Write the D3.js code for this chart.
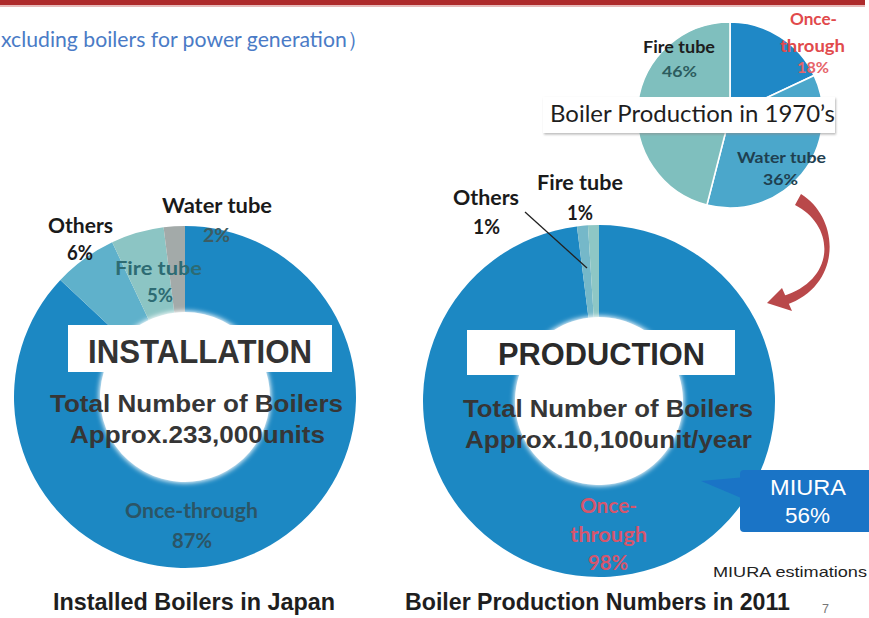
<!DOCTYPE html>
<html>
<head>
<meta charset="utf-8">
<script src="https://cdn.jsdelivr.net/npm/d3@7/dist/d3.min.js"></script>
<style>
  html, body { margin: 0; padding: 0; background: #fff; }
  svg { display: block; }
</style>
</head>
<body>
<svg id="chart" width="869" height="618"></svg>
<script>
// ---- data ----
const installCategories = ["Once-through", "Others", "Fire tube", "Water tube"];
const installValues     = [87, 6, 5, 2];

const productionCategories = ["Once-through", "Others", "Fire tube"];
const productionValues     = [98, 1, 1];

const production1970Categories = ["Once-through", "Water tube", "Fire tube"];
const production1970Values     = [18, 36, 46];

const installTotal    = "Approx.233,000units";
const productionTotal = "Approx.10,100unit/year";
const miuraShare      = 56;

// ---- styles ----
const SANS = "'Liberation Sans', Arial, sans-serif";
const CAL  = "Lato, 'Open Sans', sans-serif";

const installColors = d3.scaleOrdinal()
  .domain(installCategories)
  .range(["#1f88c3", "#5fb1cb", "#8cc5c4", "#a3aaa9"]);
const productionColors = d3.scaleOrdinal()
  .domain(productionCategories)
  .range(["#1f88c3", "#74b8c9", "#8ec7c5"]);
const colors1970 = d3.scaleOrdinal()
  .domain(production1970Categories)
  .range(["#1f88c6", "#4ba7cb", "#7fbfbe"]);

const svg = d3.select("#chart");
const defs = svg.append("defs");
defs.append("filter").attr("id", "soft")
  .append("feGaussianBlur").attr("stdDeviation", 0.7);
defs.append("filter").attr("id", "glow")
  .attr("x", "-20%").attr("y", "-20%").attr("width", "140%").attr("height", "140%")
  .append("feGaussianBlur").attr("stdDeviation", 2.5);
const sh = defs.append("filter").attr("id", "shadow")
  .attr("x", "-10%").attr("y", "-30%").attr("width", "120%").attr("height", "160%");
sh.append("feDropShadow").attr("dx", 1).attr("dy", 1.5).attr("stdDeviation", 1.2)
  .attr("flood-color", "#888").attr("flood-opacity", 0.6);

// text helper: x1..x2 span, baseline y
function label(text, x1, x2, y, size, weight, fill, family) {
  return svg.append("text")
    .attr("x", x1).attr("y", y)
    .attr("textLength", x2 - x1).attr("lengthAdjust", "spacingAndGlyphs")
    .attr("font-family", family || SANS)
    .attr("font-size", size).attr("font-weight", weight || "normal")
    .attr("fill", fill || "#222")
    .text(text);
}

// ---- header ----
svg.append("rect").attr("x", 0).attr("y", 0).attr("width", 865).attr("height", 5).attr("fill", "#ae2b2c");
svg.append("rect").attr("x", 0).attr("y", 5).attr("width", 865).attr("height", 2).attr("fill", "#e7b9b9");
label("xcluding boilers for power generation\uFF09", 1, 368, 47, 22, "normal", "#4a7bc6", CAL);

const pie = d3.pie().sort(null).value(d => d.value);

function donut(cx, cy, r0, r1, cats, vals, color) {
  const data = cats.map((c, i) => ({ cat: c, value: vals[i] }));
  const arc = d3.arc().innerRadius(r0).outerRadius(r1);
  const g = svg.append("g").attr("transform", `translate(${cx},${cy})`);
  g.append("g").attr("filter", "url(#soft)")
    .selectAll("path").data(pie(data)).join("path")
    .attr("d", arc).attr("fill", d => color(d.data.cat));
  g.append("circle").attr("r", r0 + 1).attr("fill", "#fff").attr("filter", "url(#glow)");
  return g;
}

// ---- installed boilers donut ----
donut(185, 397, 85, 171, installCategories, installValues, installColors);

// ---- production donut ----
donut(599, 401, 84, 176, productionCategories, productionValues, productionColors);

// ---- 1970s pie ----
{
  const data = production1970Categories.map((c, i) => ({ cat: c, value: production1970Values[i] }));
  const arc = d3.arc().innerRadius(0).outerRadius(93);
  svg.append("g").attr("transform", "translate(730,115)")
    .selectAll("path").data(pie(data)).join("path")
    .attr("d", arc).attr("fill", d => colors1970(d.data.cat))
    .attr("stroke", "#fff").attr("stroke-width", 1.6);
}

// 1970s pie labels
label("Fire tube", 643, 715, 53, 17, "bold", "#1d1d1d", CAL);
label(production1970Values[2] + "%", 662, 697, 77, 16, "bold", "#2c5c5e", CAL);
label("Once-", 790, 837, 25, 17, "bold", "#e14a4c", CAL);
label("through", 780, 845, 52, 17, "bold", "#e14a4c", CAL);
label(production1970Values[0] + "%", 797, 829, 73, 16, "bold", "#e6646a", CAL);
label("Water tube", 737, 826, 163, 16, "bold", "#1f4050", CAL);
label(production1970Values[1] + "%", 763, 798, 185, 16, "bold", "#1f4050", CAL);

// 1970s caption box
svg.append("rect").attr("x", 543).attr("y", 97).attr("width", 292).attr("height", 36)
  .attr("fill", "#fff").attr("filter", "url(#shadow)");
label("Boiler Production in 1970\u2019s", 550, 835, 122, 24, "normal", "#1e1e1e", CAL);

// curved arrow from the 1970s pie to the 2011 donut
svg.append("path")
  .attr("d", "M801,194 C840,218 843,285 786,305 L783,296 C836,280 836,226 795,205 Z")
  .attr("fill", "#b9484a");
svg.append("path")
  .attr("d", "M767,303 L782,288 L792,311 Z")
  .attr("fill", "#b9484a");

// ---- installed donut labels ----
label("Water tube", 162, 272, 213, 21, "bold", "#1a1a1a", CAL);
label(installValues[3] + "%", 203, 230, 242, 19, "bold", "#3d5c62", CAL);
label("Others", 48, 113, 233, 21, "bold", "#1a1a1a", CAL);
label(installValues[1] + "%", 67, 93, 260, 21, "bold", "#1a1a1a", CAL);
label("Fire tube", 115, 202, 275, 19, "bold", "#2d6b73", CAL);
label(installValues[2] + "%", 147, 173, 302, 19, "bold", "#2d6b73", CAL);
label("Once-through", 125, 258, 518, 20, "bold", "#2b5566", CAL);
label(installValues[0] + "%", 172, 212, 548, 20, "bold", "#2b5566", CAL);

svg.append("rect").attr("x", 68).attr("y", 325).attr("width", 264).attr("height", 47).attr("fill", "#fff");
label("INSTALLATION", 88, 312, 363, 33, "bold", "#333", SANS);
label("Total Number of Boilers", 50, 343, 412, 24, "bold", "#363636", SANS);
label(installTotal, 70, 325, 443, 24, "bold", "#363636", SANS);

// ---- production donut labels ----
svg.append("line").attr("x1", 525).attr("y1", 212).attr("x2", 587).attr("y2", 268)
  .attr("stroke", "#222").attr("stroke-width", 1.3);
label("Fire tube", 537, 623, 190, 21, "bold", "#1a1a1a", CAL);
label(productionValues[2] + "%", 567, 593, 220, 21, "bold", "#1a1a1a", CAL);
label("Others", 453, 519, 205, 21, "bold", "#1a1a1a", CAL);
label(productionValues[1] + "%", 473, 500, 234, 21, "bold", "#1a1a1a", CAL);

label("Once-", 580, 637, 513, 21, "bold", "#d5566d", CAL);
label("through", 570, 647, 542, 21, "bold", "#d5566d", CAL);
label(productionValues[0] + "%", 588, 628, 570, 21, "bold", "#d5566d", CAL);

svg.append("rect").attr("x", 467).attr("y", 330).attr("width", 268).attr("height", 45).attr("fill", "#fff");
label("PRODUCTION", 498, 705, 365, 31, "bold", "#2a2a2a", SANS);
label("Total Number of Boilers", 463, 753, 417, 24, "bold", "#363636", SANS);
label(productionTotal, 465, 752, 448, 24, "bold", "#363636", SANS);

// MIURA callout
svg.append("path").attr("d", "M746,477 L746,500 L701,481 Z").attr("fill", "#1a74c6");
svg.append("rect").attr("x", 740).attr("y", 470).attr("width", 140).attr("height", 62).attr("rx", 4)
  .attr("fill", "#1a74c6");
label("MIURA", 770, 846, 495, 22, "normal", "#fff", SANS);
label(miuraShare + "%", 785, 830, 523, 22, "normal", "#fff", SANS);

label("MIURA estimations", 713, 867, 577, 15, "normal", "#222", SANS);

// ---- captions ----
label("Installed Boilers in Japan", 53, 335, 610, 24, "bold", "#1e1e1e", SANS);
label("Boiler Production Numbers in 2011", 405, 790, 610, 24, "bold", "#1e1e1e", SANS);
label("7", 822, 829, 613, 12, "normal", "#777", SANS);
</script>
</body>
</html>
